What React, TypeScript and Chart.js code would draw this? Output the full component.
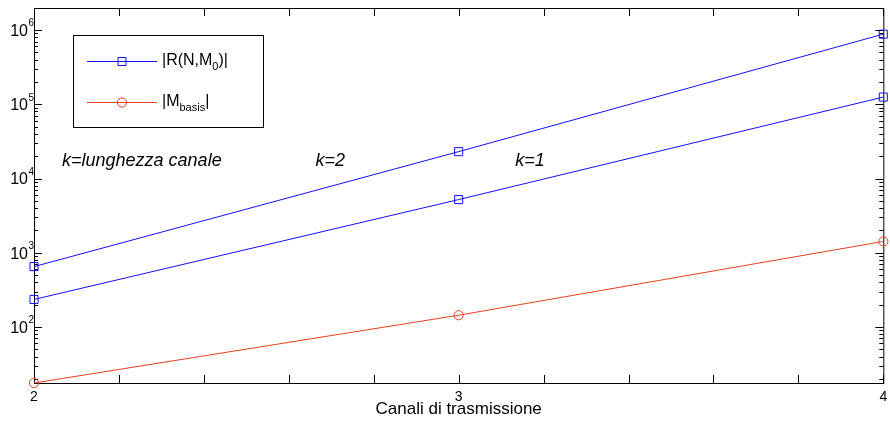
import React, { useEffect, useRef } from 'react';
import { Chart, registerables } from 'chart.js';

Chart.register(...registerables);

// ---- data ----
const channels = [2, 3, 4];
const rK2 = [650, 23000, 880000];
const rK1 = [235, 5200, 125000];
const mBasis = [17.6, 144, 1420];

const xTickLabels = [2, 3, 4];
const xMinorStep = 0.2;
const yExponents = [2, 3, 4, 5, 6];
const xMin = 2;
const xMax = 4;
const yMin = 17.6;
const yMax = 1.98e6;
const xTitle = 'Canali di trasmissione';

const legendMain = ['|R(N,M', '|M'];
const legendSub = ['0', 'basis'];
const legendTail = [')|', '|'];

const annotationTexts = ['k=lunghezza canale', 'k=2', 'k=1'];
const annotationX = [2.066, 2.663, 3.133];
const annotationY = [16950, 16950, 16950];

const BLUE = '#1010ff';
const RED = '#e8401e';
const FONT = '"Liberation Sans", Arial, Helvetica, sans-serif';

const framePlugin = {
  id: 'matlabFrame',
  beforeDatasetsDraw(chart: any) {
    const { ctx, chartArea } = chart;
    const { left, right, top, bottom } = chartArea;
    const xs = chart.scales.x;
    const ys = chart.scales.y;
    ctx.save();
    ctx.strokeStyle = '#000';
    ctx.lineWidth = 1;
    ctx.strokeRect(left + 0.5, top + 0.5, right - left, bottom - top);
    ctx.beginPath();
    // x ticks
    for (let v = xMin; v <= xMax + 1e-9; v += xMinorStep) {
      const px = Math.round(xs.getPixelForValue(v)) + 0.5;
      ctx.moveTo(px, bottom);
      ctx.lineTo(px, bottom - 8);
      ctx.moveTo(px, top);
      ctx.lineTo(px, top + 8);
    }
    // y ticks
    for (let e = 1; e <= 6; e++) {
      for (let m = 1; m <= 9; m++) {
        const v = m * Math.pow(10, e);
        if (v < yMin || v > yMax) continue;
        const py = Math.round(ys.getPixelForValue(v)) + 0.5;
        const len = m === 1 ? 8 : 4;
        ctx.moveTo(left, py);
        ctx.lineTo(left + len, py);
        ctx.moveTo(right, py);
        ctx.lineTo(right - len, py);
      }
    }
    ctx.stroke();

    // y labels
    ctx.fillStyle = '#000';
    for (const e of yExponents) {
      const py = ys.getPixelForValue(Math.pow(10, e));
      ctx.font = `16px ${FONT}`;
      ctx.textAlign = 'right';
      ctx.textBaseline = 'middle';
      ctx.fillText('10', 28, py + 1.5);
      ctx.font = `10px ${FONT}`;
      ctx.textAlign = 'left';
      ctx.fillText(String(e), 28.5, py - 6.5);
    }
    // x labels
    ctx.font = `14px ${FONT}`;
    ctx.textAlign = 'center';
    ctx.textBaseline = 'middle';
    for (const v of xTickLabels) {
      ctx.fillText(String(v), xs.getPixelForValue(v), bottom + 14);
    }
    ctx.font = `17px ${FONT}`;
    ctx.fillText(xTitle, (left + right) / 2, bottom + 26);
    // annotations
    ctx.font = `italic 18px ${FONT}`;
    ctx.textAlign = 'left';
    for (let i = 0; i < annotationTexts.length; i++) {
      ctx.fillText(annotationTexts[i], xs.getPixelForValue(annotationX[i]), ys.getPixelForValue(annotationY[i]));
    }
    ctx.restore();
  },
  afterDraw(chart: any) {
    const { ctx } = chart;
    ctx.save();
    const bx = 73, by = 35, bw = 190, bh = 92;
    ctx.fillStyle = '#fff';
    ctx.fillRect(bx, by, bw, bh);
    ctx.strokeStyle = '#000';
    ctx.lineWidth = 1;
    ctx.strokeRect(bx + 0.5, by + 0.5, bw, bh);
    const colors = [BLUE, RED];
    const rows = [61, 102];
    for (let i = 0; i < 2; i++) {
      const y = rows[i] + 0.5;
      ctx.strokeStyle = colors[i];
      ctx.beginPath();
      ctx.moveTo(87, y);
      ctx.lineTo(157, y);
      ctx.stroke();
      ctx.beginPath();
      if (i === 0) {
        ctx.rect(122 - 4, y - 4, 8, 8);
      } else {
        ctx.arc(122, y, 4.6, 0, Math.PI * 2);
      }
      ctx.stroke();
      ctx.fillStyle = '#000';
      ctx.textBaseline = 'middle';
      ctx.textAlign = 'left';
      let x = 162;
      ctx.font = `16px ${FONT}`;
      ctx.fillText(legendMain[i], x, rows[i]);
      x += ctx.measureText(legendMain[i]).width;
      ctx.font = `11px ${FONT}`;
      ctx.fillText(legendSub[i], x, rows[i] + 6);
      x += ctx.measureText(legendSub[i]).width;
      ctx.font = `16px ${FONT}`;
      ctx.fillText(legendTail[i], x, rows[i]);
    }
    ctx.restore();
  },
};

export default function App() {
  const ref = useRef<HTMLCanvasElement | null>(null);
  useEffect(() => {
    if (!ref.current) return;
    const mk = (vals: number[]) => channels.map((c, i) => ({ x: c, y: vals[i] }));
    const chart = new Chart(ref.current, {
      type: 'line',
      data: {
        datasets: [
          {
            label: '|R(N,M0)| k=2',
            data: mk(rK2),
            borderColor: BLUE,
            backgroundColor: 'transparent',
            borderWidth: 1,
            pointStyle: 'rect',
            pointRadius: 5.7,
            pointBorderColor: BLUE,
            pointBorderWidth: 1,
            clip: false as any,
          },
          {
            label: '|R(N,M0)| k=1',
            data: mk(rK1),
            borderColor: BLUE,
            backgroundColor: 'transparent',
            borderWidth: 1,
            pointStyle: 'rect',
            pointRadius: 5.7,
            pointBorderColor: BLUE,
            pointBorderWidth: 1,
            clip: false as any,
          },
          {
            label: '|Mbasis|',
            data: mk(mBasis),
            borderColor: RED,
            backgroundColor: 'transparent',
            borderWidth: 1,
            pointStyle: 'circle',
            pointRadius: 4.6,
            pointBorderColor: RED,
            pointBorderWidth: 1,
            clip: false as any,
          },
        ],
      },
      options: {
        responsive: false,
        animation: false,
        devicePixelRatio: 1,
        layout: { padding: { top: 8, right: 2, left: 0, bottom: 0 } },
        plugins: { legend: { display: false }, tooltip: { enabled: false } },
        scales: {
          x: {
            type: 'linear',
            min: xMin,
            max: xMax,
            grid: { display: false },
            border: { display: false },
            ticks: { display: false },
            afterFit: (s: any) => { s.height = 41; s.paddingLeft = 0; s.paddingRight = 0; },
          },
          y: {
            type: 'logarithmic',
            min: yMin,
            max: yMax,
            grid: { display: false },
            border: { display: false },
            ticks: { display: false },
            afterFit: (s: any) => { s.width = 34; },
          },
        },
      },
      plugins: [framePlugin],
    });
    return () => chart.destroy();
  }, []);
  return (
    <div style={{ position: 'absolute', left: 0, top: 0, width: 890, height: 424, background: '#fff' }}>
      <canvas ref={ref} width={890} height={424} />
    </div>
  );
}
